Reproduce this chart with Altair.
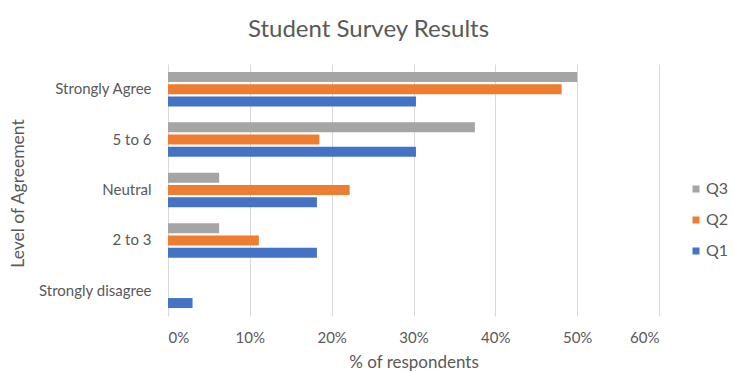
import altair as alt
import pandas as pd

# Survey answers, grouped by level of agreement
levels = ["Strongly Agree", "5 to 6", "Neutral", "2 to 3", "Strongly disagree"]
series = ["Q3", "Q2", "Q1"]
q1 = [0.303, 0.303, 0.182, 0.182, 0.030]
q2 = [0.481, 0.185, 0.222, 0.111, 0.0]
q3 = [0.500, 0.375, 0.0625, 0.0625, 0.0]
colors = ["#A5A5A5", "#ED7D31", "#4472C4"]
x_ticks = [0, 0.1, 0.2, 0.3, 0.4, 0.5, 0.6]

rows = []
for name, vals in (("Q1", q1), ("Q2", q2), ("Q3", q3)):
    for lvl, v in zip(levels, vals):
        rows.append({"level": lvl, "question": name, "share": v})
df = pd.DataFrame(rows)

FONT = "Lato"
GRAY = "#595959"

chart = (
    alt.Chart(df)
    .mark_bar(size=10)
    .encode(
        x=alt.X(
            "share:Q",
            scale=alt.Scale(domain=[0, 0.6], nice=False),
            axis=alt.Axis(
                values=x_ticks,
                format=".0%",
                title="% of respondents",
                grid=True,
                gridColor="#D9D9D9",
                domain=False,
                ticks=False,
                labelPadding=14,
                labelFontSize=15,
                labelColor=GRAY,
                labelFont=FONT,
                titleFont=FONT,
                titleFontSize=17,
                titleFontWeight="normal",
                titleColor=GRAY,
                titlePadding=9,
            ),
        ),
        y=alt.Y(
            "level:N",
            sort=levels,
            scale=alt.Scale(paddingInner=0.3, paddingOuter=0.15),
            axis=alt.Axis(
                title="Level of Agreement",
                domain=False,
                ticks=False,
                grid=False,
                labelPadding=17,
                labelFontSize=15,
                labelColor=GRAY,
                labelFont=FONT,
                titleFont=FONT,
                titleFontSize=17.5,
                titleFontWeight="normal",
                titleColor=GRAY,
                titleAngle=270,
                titleBaseline="middle",
                titleX=-150,
                titleY=129,
            ),
        ),
        yOffset=alt.YOffset(
            "question:N",
            sort=series,
            scale=alt.Scale(paddingInner=0.12, paddingOuter=0),
        ),
        color=alt.Color(
            "question:N",
            sort=series,
            scale=alt.Scale(domain=series, range=colors),
            legend=alt.Legend(
                title=None,
                orient="none",
                legendX=520,
                legendY=117,
                symbolType="square",
                symbolSize=49,
                symbolStrokeWidth=0,
                labelFontSize=16,
                labelColor=GRAY,
                labelFont=FONT,
                rowPadding=15,
                labelOffset=2,
            ),
        ),
    )
    .properties(
        width=491,
        height=252,
        autosize=alt.AutoSizeParams(type="none"),
        padding={"left": 168, "top": 64, "right": 75, "bottom": 56},
        title=alt.TitleParams(
            "Student Survey Results",
            font=FONT,
            fontSize=24,
            fontWeight="normal",
            color=GRAY,
            anchor="middle",
            dx=-45,
            offset=22,
        ),
        background="white",
    )
    .configure_view(stroke=None)
)

chart.save("out.html", embed_options={"renderer": "svg", "actions": False})
